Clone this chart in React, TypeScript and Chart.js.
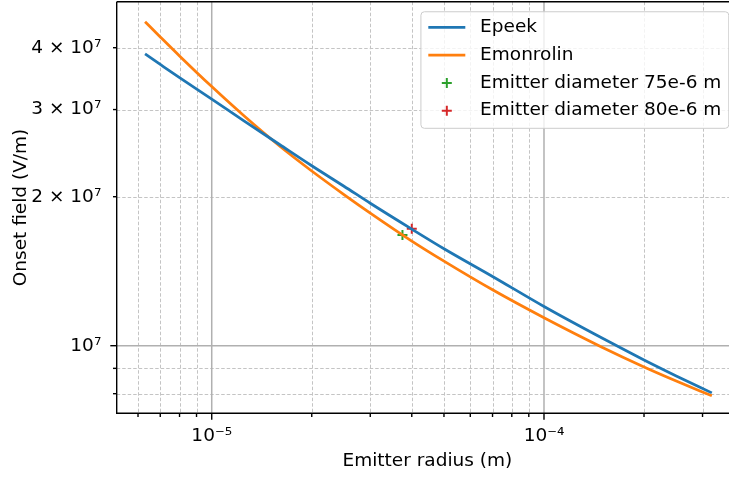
import React, { useEffect, useRef } from "react";
import { Chart, registerables } from "chart.js";

Chart.register(...registerables);

// ---- data ----
const radiusM = [6.3e-6, 7e-6, 8e-6, 1e-5, 1.25e-5, 1.6e-5, 2e-5, 2.5e-5, 3e-5, 4e-5, 5e-5, 7e-5, 1e-4, 1.5e-4, 2e-4, 2.5e-4, 3.2e-4];
const ePeek = [3.885e7, 3.7e7, 3.48e7, 3.15e7, 2.846e7, 2.55e7, 2.31e7, 2.1e7, 1.94e7, 1.72e7, 1.57e7, 1.38e7, 1.2e7, 1.035e7, 9.36e6, 8.69e6, 8.03e6];
const eMonrolin = [4.514e7, 4.206e7, 3.85e7, 3.338e7, 2.914e7, 2.532e7, 2.254e7, 2.02e7, 1.853e7, 1.627e7, 1.482e7, 1.297e7, 1.139e7, 9.92e6, 9.06e6, 8.486e6, 7.92e6];
const marker75Radius = [3.75e-5];
const marker75Field = [1.674e7];
const marker80Radius = [4e-5];
const marker80Field = [1.723e7];

const seriesLabels = ["Epeek", "Emonrolin", "Emitter diameter 75e-6 m", "Emitter diameter 80e-6 m"];

const xMajorTicks = [1e-5, 1e-4];
const xMajorLabels = ["10\u207B\u2075", "10\u207B\u2074"];
const xMinorTicks = [6e-6, 7e-6, 8e-6, 9e-6, 2e-5, 3e-5, 4e-5, 5e-5, 6e-5, 7e-5, 8e-5, 9e-5, 2e-4, 3e-4];
const yLabeledTicks = [1e7, 2e7, 3e7, 4e7];
const yTickLabels = ["10\u2077", "2 \u00D7 10\u2077", "3 \u00D7 10\u2077", "4 \u00D7 10\u2077"];
const yMajorTicks = [1e7];
const yMinorTicks = [8e6, 9e6, 2e7, 3e7, 4e7];

const X_MIN = 5.176e-6;
const X_MAX = 3.836e-4;
const Y_MIN = 7.302e6;
const Y_MAX = 4.955e7;

const FONT = "DejaVu Sans";
const FS = 18.5;

function labelFor(v: number, ticks: number[], labels: string[]) {
  for (let i = 0; i < ticks.length; i++) {
    if (Math.abs(v - ticks[i]) / ticks[i] < 1e-6) return labels[i];
  }
  return "";
}

const gridPlugin = {
  id: "mplGrid",
  beforeDatasetsDraw(chart: any) {
    const { ctx, chartArea: a, scales } = chart;
    const xs = scales.x;
    const ys = scales.y;
    ctx.save();
    ctx.beginPath();
    ctx.rect(a.left, a.top, a.right - a.left, a.bottom - a.top);
    ctx.clip();
    ctx.strokeStyle = "#c4c4c4";
    ctx.lineWidth = 1;
    ctx.setLineDash([3.5, 2]);
    for (const v of xMinorTicks) {
      const p = Math.round(xs.getPixelForValue(v)) + 0.5;
      ctx.beginPath();
      ctx.moveTo(p, a.top);
      ctx.lineTo(p, a.bottom);
      ctx.stroke();
    }
    for (const v of yMinorTicks) {
      const p = Math.round(ys.getPixelForValue(v)) + 0.5;
      ctx.beginPath();
      ctx.moveTo(a.left, p);
      ctx.lineTo(a.right, p);
      ctx.stroke();
    }
    ctx.setLineDash([]);
    ctx.strokeStyle = "#b0b0b0";
    ctx.lineWidth = 1.5;
    for (const v of xMajorTicks) {
      const p = xs.getPixelForValue(v);
      ctx.beginPath();
      ctx.moveTo(p, a.top);
      ctx.lineTo(p, a.bottom);
      ctx.stroke();
    }
    for (const v of yMajorTicks) {
      const p = ys.getPixelForValue(v);
      ctx.beginPath();
      ctx.moveTo(a.left, p);
      ctx.lineTo(a.right, p);
      ctx.stroke();
    }
    ctx.restore();
  },
  afterDatasetsDraw(chart: any) {
    const { ctx, chartArea: a, scales } = chart;
    const xs = scales.x;
    const ys = scales.y;
    ctx.save();
    ctx.strokeStyle = "#000";
    ctx.lineWidth = 1.4;
    ctx.beginPath();
    ctx.moveTo(a.left, a.top);
    ctx.lineTo(a.right, a.top);
    ctx.moveTo(a.left, a.top);
    ctx.lineTo(a.left, a.bottom);
    ctx.lineTo(a.right, a.bottom);
    ctx.stroke();
    const tick = (v: number, len: number, axis: "x" | "y") => {
      ctx.beginPath();
      if (axis === "x") {
        const p = xs.getPixelForValue(v);
        ctx.moveTo(p, a.bottom);
        ctx.lineTo(p, a.bottom + len);
      } else {
        const p = ys.getPixelForValue(v);
        ctx.moveTo(a.left, p);
        ctx.lineTo(a.left - len, p);
      }
      ctx.stroke();
    };
    xMajorTicks.forEach((v) => tick(v, 6.4, "x"));
    xMinorTicks.forEach((v) => tick(v, 3.7, "x"));
    yMajorTicks.forEach((v) => tick(v, 6.4, "y"));
    yMinorTicks.forEach((v) => tick(v, 3.7, "y"));
    ctx.restore();
  },
  afterDraw(chart: any) {
    const { ctx, chartArea: a } = chart;
    const ds = chart.data.datasets;
    ctx.save();
    ctx.font = `${FS}px "${FONT}"`;
    let maxW = 0;
    ds.forEach((d: any) => {
      maxW = Math.max(maxW, ctx.measureText(d.label).width);
    });
    const pad = 0.4 * FS;
    const handleLen = 2 * FS;
    const handleGap = 0.8 * FS;
    const rowH = 1.5 * FS;
    const w = pad + handleLen + handleGap + maxW + pad;
    const h = 2 * pad + ds.length * FS + (ds.length - 1) * 0.5 * FS;
    const right = a.right - 0.5 * FS;
    const left = right - w;
    const top = a.top + 0.5 * FS + 0.8;
    const r = 3.5;
    ctx.beginPath();
    ctx.moveTo(left + r, top);
    ctx.lineTo(left + w - r, top);
    ctx.quadraticCurveTo(left + w, top, left + w, top + r);
    ctx.lineTo(left + w, top + h - r);
    ctx.quadraticCurveTo(left + w, top + h, left + w - r, top + h);
    ctx.lineTo(left + r, top + h);
    ctx.quadraticCurveTo(left, top + h, left, top + h - r);
    ctx.lineTo(left, top + r);
    ctx.quadraticCurveTo(left, top, left + r, top);
    ctx.closePath();
    ctx.fillStyle = "rgba(255,255,255,0.8)";
    ctx.fill();
    ctx.strokeStyle = "#cccccc";
    ctx.lineWidth = 1;
    ctx.stroke();
    ds.forEach((d: any, i: number) => {
      const cy = top + pad + FS / 2 + i * rowH - 1;
      const hx = left + pad;
      if (d.showLine === false) {
        const cx = hx + handleLen / 2;
        const rr = d.pointRadius;
        ctx.strokeStyle = d.borderColor;
        ctx.lineWidth = d.pointBorderWidth;
        ctx.beginPath();
        ctx.moveTo(cx - rr, cy);
        ctx.lineTo(cx + rr, cy);
        ctx.moveTo(cx, cy - rr);
        ctx.lineTo(cx, cy + rr);
        ctx.stroke();
      } else {
        ctx.strokeStyle = d.borderColor;
        ctx.lineWidth = d.borderWidth;
        ctx.beginPath();
        ctx.moveTo(hx, cy);
        ctx.lineTo(hx + handleLen, cy);
        ctx.stroke();
      }
      ctx.fillStyle = "#000";
      ctx.textBaseline = "middle";
      ctx.textAlign = "left";
      ctx.fillText(d.label, hx + handleLen + handleGap, cy);
    });
    ctx.restore();
  },
};

const zeroPad = (s: any) => {
  s.paddingTop = 0;
  s.paddingBottom = 0;
  s.paddingLeft = 0;
  s.paddingRight = 0;
};

export default function App() {
  const ref = useRef<HTMLCanvasElement | null>(null);
  useEffect(() => {
    if (!ref.current) return;
    const pts = (xs: number[], ys: number[]) => xs.map((x, i) => ({ x, y: ys[i] }));
    const chart = new Chart(ref.current, {
      type: "line",
      data: {
        datasets: [
          {
            label: seriesLabels[0],
            data: pts(radiusM, ePeek),
            borderColor: "#1f77b4",
            borderWidth: 2.75,
            pointRadius: 0,
            cubicInterpolationMode: "monotone",
            fill: false,
          },
          {
            label: seriesLabels[1],
            data: pts(radiusM, eMonrolin),
            borderColor: "#ff7f0e",
            borderWidth: 2.75,
            pointRadius: 0,
            cubicInterpolationMode: "monotone",
            fill: false,
          },
          {
            label: seriesLabels[2],
            data: pts(marker75Radius, marker75Field),
            borderColor: "#2ca02c",
            backgroundColor: "#2ca02c",
            showLine: false,
            pointStyle: "cross",
            pointRadius: 5,
            pointBorderWidth: 2,
          },
          {
            label: seriesLabels[3],
            data: pts(marker80Radius, marker80Field),
            borderColor: "#d62728",
            backgroundColor: "#d62728",
            showLine: false,
            pointStyle: "cross",
            pointRadius: 5,
            pointBorderWidth: 2,
          },
        ] as any,
      },
      options: {
        responsive: false,
        animation: false,
        devicePixelRatio: 1,
        events: [],
        layout: { autoPadding: false, padding: { top: 1.7, left: 0, right: 0, bottom: 0 } },
        plugins: { legend: { display: false }, tooltip: { enabled: false } },
        scales: {
          x: {
            type: "logarithmic",
            position: "bottom",
            min: X_MIN,
            max: X_MAX,
            afterBuildTicks: (s: any) => {
              s.ticks = xMajorTicks.map((v) => ({ value: v }));
            },
            afterFit: (s: any) => {
              s.height = 63.7;
              zeroPad(s);
            },
            grid: { drawOnChartArea: false, drawTicks: true, tickLength: 6.4, tickColor: "rgba(0,0,0,0)" },
            border: { display: false },
            ticks: {
              autoSkip: false,
              maxRotation: 0,
              minRotation: 0,
              padding: 5,
              color: "#000",
              font: { family: FONT, size: FS },
              callback: (v: any) => labelFor(Number(v), xMajorTicks, xMajorLabels),
            },
            title: {
              display: true,
              text: "Emitter radius (m)",
              color: "#000",
              font: { family: FONT, size: FS },
              padding: { top: 0, bottom: 4.5 },
            },
          },
          y: {
            type: "logarithmic",
            position: "left",
            min: Y_MIN,
            max: Y_MAX,
            afterBuildTicks: (s: any) => {
              s.ticks = yLabeledTicks.map((v) => ({ value: v }));
            },
            afterFit: (s: any) => {
              s.width = 116.7;
              zeroPad(s);
            },
            grid: { drawOnChartArea: false, drawTicks: true, tickLength: 6.4, tickColor: "rgba(0,0,0,0)" },
            border: { display: false },
            ticks: {
              autoSkip: false,
              padding: 9,
              color: "#000",
              font: { family: FONT, size: FS },
              callback: (v: any) => labelFor(Number(v), yLabeledTicks, yTickLabels),
            },
            title: {
              display: true,
              text: "Onset field (V/m)",
              color: "#000",
              font: { family: FONT, size: FS },
              padding: { top: 10, bottom: 0 },
            },
          },
        },
      },
      plugins: [gridPlugin],
    } as any);
    return () => chart.destroy();
  }, []);
  return (
    <div style={{ position: "fixed", left: 0, top: 0, width: 729, height: 477, overflow: "hidden", background: "#fff" }}>
      <div style={{ position: "absolute", left: 0, top: 0, width: 738, height: 477 }}>
        <canvas ref={ref} width={738} height={477} style={{ display: "block", width: 738, height: 477 }} />
      </div>
    </div>
  );
}
